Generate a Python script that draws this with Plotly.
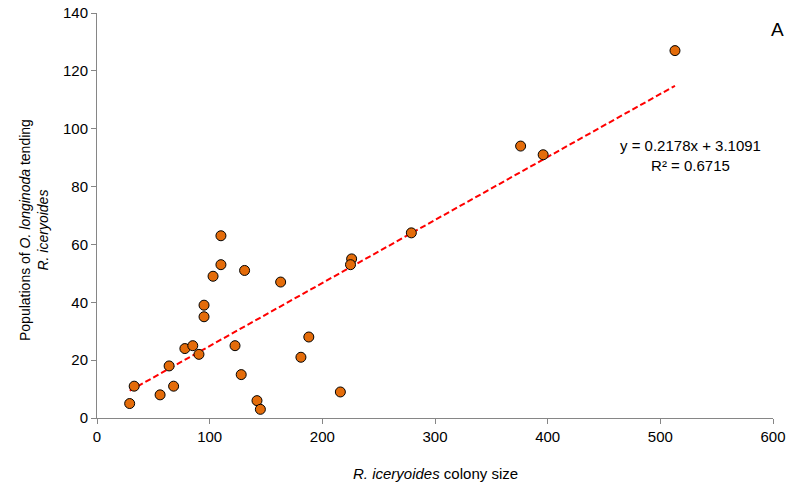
import plotly.graph_objects as go

colony_size = [110, 110, 131, 103, 163, 95, 95, 78, 85, 90.5, 122.5, 64, 128, 33, 68,
               29, 56, 142, 145, 216, 181, 188, 226, 225, 513, 376, 396, 279]
ant_populations = [63, 53, 51, 49, 47, 39, 35, 24, 25, 22, 25, 18, 15, 11, 11,
                   5, 8, 6, 3, 9, 21, 28, 55, 53, 127, 94, 91, 64]
slope = 0.2178
intercept = 3.1091
r_squared = 0.6715
x_ticks = [0, 100, 200, 300, 400, 500, 600]
y_ticks = [0, 20, 40, 60, 80, 100, 120, 140]

x_min, x_max = min(colony_size), max(colony_size)
trend_x = [x_min, x_max]
trend_y = [slope * v + intercept for v in trend_x]

FONT = "Liberation Sans, Arial, sans-serif"

fig = go.Figure()
fig.add_trace(go.Scatter(
    x=trend_x, y=trend_y, mode="lines",
    line=dict(color="#FF0000", width=2, dash="6px,3px"),
    hoverinfo="skip", showlegend=False))
fig.add_trace(go.Scatter(
    x=colony_size, y=ant_populations, mode="markers",
    marker=dict(size=10, color="#E46C0A", line=dict(color="#000000", width=1)),
    showlegend=False))

axis_common = dict(showgrid=False, zeroline=False, showline=True, linecolor="#868686",
                   linewidth=1, ticks="outside", tickcolor="#868686", ticklen=5,
                   automargin=False,
                   tickfont=dict(family=FONT, size=15, color="#000000"))
fig.update_xaxes(range=[0, 600], tickvals=x_ticks, **axis_common)
fig.update_yaxes(range=[0, 140], tickvals=y_ticks, **axis_common)

W, H = 799, 488
PX0, PX1, PY0, PY1 = 97, 773, 13, 418   # target plot box in window pixels
L, T, R, B = PX0, PY0, W - PX1, H - PY1
pw, ph = PX1 - PX0, PY1 - PY0


def px(xw):
    return (xw - PX0) / pw


def py(yw):
    return (PY1 - yw) / ph


fig.update_layout(
    width=W, height=H,
    margin=dict(l=L, r=R, t=T, b=B, autoexpand=False),
    plot_bgcolor="white", paper_bgcolor="white",
    font=dict(family=FONT, size=15, color="#000000"),
    annotations=[
        dict(text="<i>R. iceryoides</i> colony size", xref="paper", yref="paper",
             x=px(435), y=py(474), xanchor="center", yanchor="middle",
             showarrow=False, font=dict(size=15)),
        dict(text="Populations of <i>O. longinoda</i> tending<br><i>R. iceryoides</i>",
             xref="paper", yref="paper", textangle=-90,
             x=px(34), y=py(230), xanchor="center", yanchor="middle",
             showarrow=False, font=dict(size=14)),
        dict(text="A", xref="paper", yref="paper", x=px(777), y=py(30),
             xanchor="center", yanchor="middle", showarrow=False, font=dict(size=19)),
        dict(text=f"y = {slope}x + {intercept}<br>R² = {r_squared}", xref="paper", yref="paper",
             x=px(690), y=py(155), xanchor="center", yanchor="middle",
             showarrow=False, align="center", font=dict(size=15)),
    ],
)

fig.write_html("out.html", config={"displayModeBar": False},
               post_script="document.body.style.margin='0';document.body.style.overflow='hidden';")
